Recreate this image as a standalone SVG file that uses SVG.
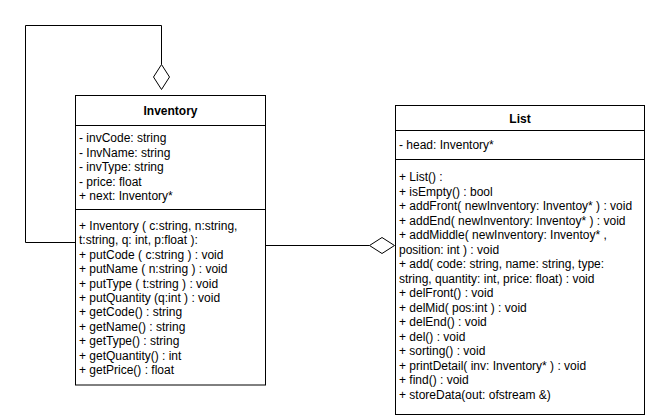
<svg xmlns="http://www.w3.org/2000/svg" width="646" height="419" viewBox="0 0 646 419">
<style>
.box{fill:#fff;stroke:#000;stroke-width:1}
.sep{stroke:#000;stroke-width:1;fill:none}
.t{font-family:"Liberation Sans",Arial,sans-serif;font-size:12px;fill:#000}
.title{font-family:"Liberation Sans",Arial,sans-serif;font-size:12px;font-weight:bold;fill:#000;text-anchor:middle}
.edge{fill:none;stroke:#000;stroke-width:1}
.dia{fill:#fff;stroke:#000;stroke-width:1}
</style>
<rect width="646" height="419" fill="#fff"/>
<g id="connectors">
<path class="edge" d="M75.5,242.5 H25.5 V25.5 H161.5 V64.5"/>
<path class="dia" d="M161.5,64.5 L169.5,77 L161.5,89.5 L153.5,77 Z"/>
<path class="edge" d="M265.5,245.5 H369.5"/>
<path class="dia" d="M369.5,245.5 L382,237.5 L394.5,245.5 L382,253.5 Z"/>
</g>
<g id="inventory">
<rect class="box" x="75.5" y="95.5" width="190" height="289.5"/>
<path class="sep" d="M75.5,125.5 H265.5 M75.5,209.5 H265.5"/>
<text class="title" x="170.5" y="115">Inventory</text>
<text class="t" x="79" y="142">- invCode: string</text>
<text class="t" x="79" y="156.5">- InvName: string</text>
<text class="t" x="79" y="171">- invType: string</text>
<text class="t" x="79" y="185.5">- price: float</text>
<text class="t" x="79" y="200">+ next: Inventory*</text>
<text class="t" x="79" y="230">+ Inventory ( c:string, n:string,</text>
<text class="t" x="79" y="244.4">t:string, q: int, p:float ):</text>
<text class="t" x="79" y="258.8">+ putCode ( c:string ) : void</text>
<text class="t" x="79" y="273.2">+ putName ( n:string ) : void</text>
<text class="t" x="79" y="287.6">+ putType ( t:string ) : void</text>
<text class="t" x="79" y="302">+ putQuantity (q:int ) : void</text>
<text class="t" x="79" y="316.4">+ getCode() : string</text>
<text class="t" x="79" y="330.8">+ getName() : string</text>
<text class="t" x="79" y="345.2">+ getType() : string</text>
<text class="t" x="79" y="359.6">+ getQuantity() : int</text>
<text class="t" x="79" y="374">+ getPrice() : float</text>
</g>
<g id="list">
<rect class="box" x="395.5" y="105.5" width="249" height="309"/>
<path class="sep" d="M395.5,130.5 H644.5 M395.5,159.5 H644.5"/>
<text class="title" x="520" y="123">List</text>
<text class="t" x="399" y="149">- head: Inventory*</text>
<text class="t" x="399" y="181">+ List() :</text>
<text class="t" x="399" y="195.5">+ isEmpty() : bool</text>
<text class="t" x="399" y="210">+ addFront( newInventory: Inventoy* ) : void</text>
<text class="t" x="399" y="224.5">+ addEnd( newInventory: Inventoy* ) : void</text>
<text class="t" x="399" y="239">+ addMiddle( newInventory: Inventoy* ,</text>
<text class="t" x="399" y="253.5">position: int ) : void</text>
<text class="t" x="399" y="268">+ add( code: string, name: string, type:</text>
<text class="t" x="399" y="282.5">string, quantity: int, price: float) : void</text>
<text class="t" x="399" y="297">+ delFront() : void</text>
<text class="t" x="399" y="311.5">+ delMid( pos:int ) : void</text>
<text class="t" x="399" y="326">+ delEnd() : void</text>
<text class="t" x="399" y="340.5">+ del() : void</text>
<text class="t" x="399" y="355">+ sorting() : void</text>
<text class="t" x="399" y="369.5">+ printDetail( inv: Inventory* ) : void</text>
<text class="t" x="399" y="384">+ find() : void</text>
<text class="t" x="399" y="398.5">+ storeData(out: ofstream &amp;)</text>
</g>
</svg>
